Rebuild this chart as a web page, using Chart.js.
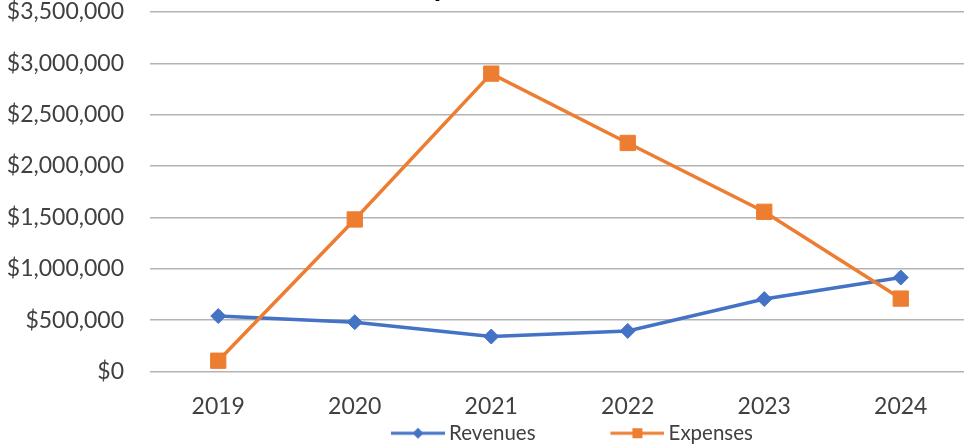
<!DOCTYPE html>
<html><head><meta charset="utf-8">
<script src="https://cdn.jsdelivr.net/npm/chart.js@4.4.1/dist/chart.umd.min.js"></script>
<style>
html,body{margin:0;padding:0;background:#fff;}
#wrap{position:relative;width:964px;height:444px;overflow:hidden;background:#fff;}
#c{position:absolute;left:0;top:-40px;}
</style></head><body>
<div id="wrap"><canvas id="c" width="1000" height="540"></canvas></div>
<script>
const years = ['2019', '2020', '2021', '2022', '2023', '2024'];
const revenues = [540000, 480000, 340000, 395000, 705000, 915000];
const expenses = [105000, 1480000, 2900000, 2225000, 1555000, 710000];
const seriesNames = ['Revenues', 'Expenses'];
const seriesColors = ['#4472C4', '#ED7D31'];
const yMin = 0, yMax = 3500000, yStep = 500000;
const chartTitle = 'Expenses and Revenues';

function legendSwatch(color, style) {
  const c = document.createElement('canvas');
  const w = 85, h = 20, mid = 10;
  c.width = w; c.height = h;
  const g = c.getContext('2d');
  g.strokeStyle = color; g.lineWidth = 3;
  g.beginPath(); g.moveTo(w - 54, mid); g.lineTo(w, mid); g.stroke();
  g.fillStyle = color;
  const cx = w - 27;
  if (style === 'diamond') {
    g.beginPath(); g.moveTo(cx, mid - 5.5); g.lineTo(cx + 5.5, mid); g.lineTo(cx, mid + 5.5); g.lineTo(cx - 5.5, mid); g.closePath(); g.fill();
  } else {
    g.fillRect(cx - 5, mid - 5, 10, 10);
  }
  return c;
}
const swatches = [legendSwatch(seriesColors[0], 'diamond'), legendSwatch(seriesColors[1], 'square')];

Chart.defaults.font.family = 'Lato';

new Chart(document.getElementById('c').getContext('2d'), {
  type: 'line',
  data: {
    labels: years,
    datasets: [
      { label: seriesNames[0], data: revenues, borderColor: seriesColors[0], backgroundColor: seriesColors[0],
        borderWidth: 3.5, pointStyle: 'rectRot', pointRadius: 7.5, pointBorderWidth: 1,
        pointBackgroundColor: seriesColors[0], pointBorderColor: seriesColors[0], order: 1, tension: 0 },
      { label: seriesNames[1], data: expenses, borderColor: seriesColors[1], backgroundColor: seriesColors[1],
        borderWidth: 3.5, pointStyle: 'rect', pointRadius: 10.8, pointBorderWidth: 1,
        pointBackgroundColor: seriesColors[1], pointBorderColor: seriesColors[1], order: 0, tension: 0 }
    ]
  },
  options: {
    responsive: false, animation: false, devicePixelRatio: 1,
    layout: { padding: { left: 0, right: 31, top: 0, bottom: 46.5 } },
    plugins: {
      tooltip: { enabled: false },
      title: { display: true, text: chartTitle, fullSize: false, color: '#000',
        font: { family: 'Lato', size: 30, weight: 'bold' }, padding: { top: 8.5, bottom: 7.5 } },
      legend: {
        position: 'bottom', fullSize: false,
        labels: {
          usePointStyle: true, pointStyleWidth: 72.75, padding: 50, color: '#404040',
          font: { family: 'Lato', size: 20.5 },
          generateLabels: () => seriesNames.map((name, i) => ({
            text: name, fillStyle: seriesColors[i], strokeStyle: seriesColors[i], lineWidth: 0,
            pointStyle: swatches[i], fontColor: '#404040', hidden: false, datasetIndex: i
          }))
        }
      }
    },
    scales: {
      x: {
        offset: true,
        grid: { display: false, drawTicks: false },
        border: { display: false },
        ticks: { mirror: true, padding: -49.3, color: '#404040', font: { size: 23 } },
        afterFit: (s) => { s.height = 1.5; }
      },
      y: {
        min: yMin, max: yMax,
        ticks: { stepSize: yStep, padding: 26, color: '#404040', font: { size: 23 },
          callback: (v) => '$' + Number(v).toLocaleString('en-US') },
        grid: { color: '#b3b3b3', lineWidth: 1.5, drawTicks: false },
        border: { display: false },
        afterFit: (s) => { s.width = 150; }
      }
    }
  }
});
</script>
</body></html>
